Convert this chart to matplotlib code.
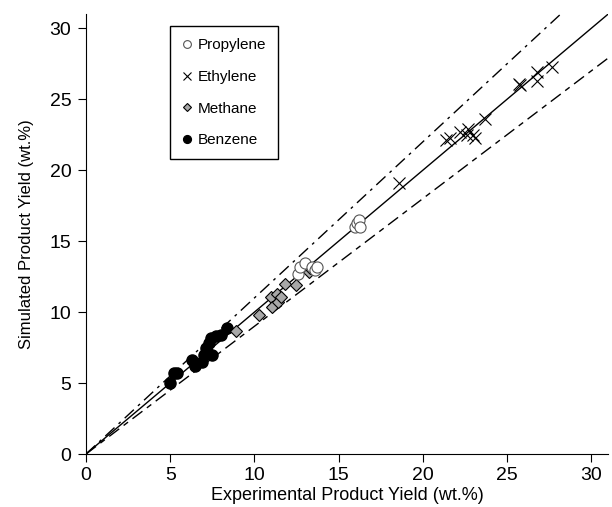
#simulated vs experimental product yields, parity plot

#imports
import numpy as np
import matplotlib.pyplot as plt

plt.rcParams['font.family'] = ['Liberation Sans', 'DejaVu Sans']

#data (experimental, simulated), wt.%
propylene_x = [12.6, 12.7, 13.0, 13.4, 13.6, 13.7, 16.0, 16.1, 16.2, 16.3]
propylene_y = [12.7, 13.2, 13.45, 13.2, 13.0, 13.2, 16.0, 16.3, 16.5, 16.0]

ethylene_x = [18.6, 21.4, 21.6, 22.2, 22.7, 22.6, 23.0, 23.1, 23.7, 25.7, 25.8, 26.8, 26.8, 27.7]
ethylene_y = [19.1, 22.1, 22.3, 22.7, 22.9, 22.5, 22.5, 22.3, 23.6, 26.1, 26.0, 26.9, 26.3, 27.3]

methane_x = [8.9, 10.3, 11.0, 11.05, 11.35, 11.4, 11.6, 11.8, 12.5, 13.25, 13.3]
methane_y = [8.7, 9.8, 11.05, 10.35, 11.3, 10.7, 11.05, 12.0, 11.9, 12.8, 13.1]

benzene_x = [5.0, 5.2, 5.4, 6.3, 6.5, 6.9, 7.0, 7.1, 7.2, 7.3, 7.4, 7.5, 7.7, 8.0, 8.4]
benzene_y = [5.0, 5.7, 5.7, 6.6, 6.2, 6.5, 7.0, 7.5, 7.2, 7.8, 8.2, 7.0, 8.3, 8.4, 8.9]

fig = plt.figure(figsize=(6.12, 5.07), dpi=100)
ax = fig.add_axes([0.1405, 0.1045, 0.853, 0.8675])

#parity line and +/-10 % bands
xl = np.array([0, 31])
ax.plot(xl, xl, color='black', lw=1.0)
ax.plot(xl, 1.1 * xl, color='black', lw=1.0, linestyle=(0, (9, 4, 2, 4)))
ax.plot(xl, 0.9 * xl, color='black', lw=1.0, linestyle=(0, (9, 4, 4, 4)))

ax.plot(benzene_x, benzene_y, 'o', color='black', ms=8, label='Benzene')
ax.plot(methane_x, methane_y, 'D', color='#a8a8a8', mec='black', mew=0.8, ms=6, label='Methane')
ax.plot(ethylene_x, ethylene_y, 'x', color='black', mew=0.8, ms=8, label='Ethylene')
ax.plot(propylene_x, propylene_y, 'o', mfc='white', mec='#555555', mew=0.8, ms=8, label='Propylene')

ax.set_xlim(0, 31)
ax.set_ylim(0, 31)
ax.set_xticks(range(0, 31, 5))
ax.set_yticks(range(0, 31, 5))
ax.spines['top'].set_visible(False)
ax.spines['right'].set_visible(False)
ax.tick_params(labelsize=14, length=5.5, direction='out')
ax.tick_params(axis='x', pad=4)
ax.tick_params(axis='y', pad=5)
ax.set_xlabel('Experimental Product Yield (wt.%)', fontsize=13, labelpad=2)
ax.set_ylabel('Simulated Product Yield (wt.%)', fontsize=12, labelpad=11)

#legend in reverse order of plotting
h, l = ax.get_legend_handles_labels()
leg = ax.legend(h[::-1], l[::-1], loc='upper left', bbox_to_anchor=(0.146, 0.99),
                fontsize=11, markerscale=0.7, handlelength=0.6, handletextpad=0.4,
                labelspacing=1.15, borderpad=0.8, fancybox=False, edgecolor='black',
                framealpha=1)
leg.get_frame().set_linewidth(1.0)

fig.savefig('out.png', dpi=100)
